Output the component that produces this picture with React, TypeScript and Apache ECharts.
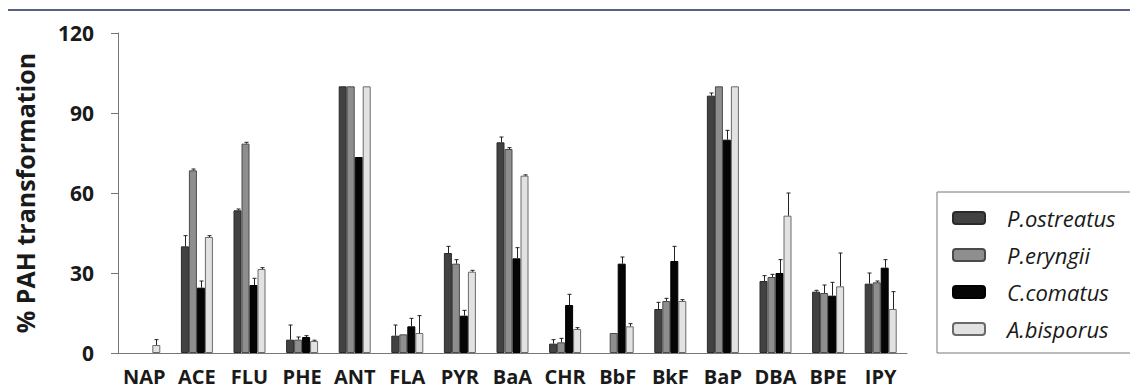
import React, { useEffect, useRef } from "react";
import * as echarts from "echarts";

const categories = ["NAP", "ACE", "FLU", "PHE", "ANT", "FLA", "PYR", "BaA", "CHR", "BbF", "BkF", "BaP", "DBA", "BPE", "IPY"];
const seriesNames = ["P.ostreatus", "P.eryngii", "C.comatus", "A.bisporus"];

const pOstreatus = [0, 40, 53.5, 5, 100, 6.5, 37.5, 79, 3.5, 0, 16.5, 96.5, 27, 23, 26];
const pOstreatusErr = [0, 4, 0.5, 5.5, 0, 4, 2.5, 2, 1.5, 0, 2.5, 1, 2, 0.5, 4];
const pEryngii = [0, 68.5, 78.5, 5, 100, 7, 33.5, 76.5, 4, 7.5, 19.5, 100, 28.5, 22.5, 26.5];
const pEryngiiErr = [0, 0.5, 0.5, 1, 0, 0, 1.5, 0.5, 1.5, 0, 1, 0, 1, 3, 0.5];
const cComatus = [0, 24.5, 25.5, 6, 73.5, 10, 14, 35.5, 18, 33.5, 34.5, 80, 30, 21.5, 32];
const cComatusErr = [0, 2.5, 2.5, 0.5, 0, 3, 2, 4, 4, 2.5, 5.5, 3.5, 5, 5, 3];
const aBisporus = [3, 43.5, 31.5, 4.5, 100, 7.5, 30.5, 66.5, 9, 10, 19.5, 100, 51.5, 25, 16.5];
const aBisporusErr = [2, 0.5, 0.5, 0.3, 0, 6.5, 0.5, 0.3, 0.5, 1, 0.5, 0, 8.5, 12.5, 6.5];

const yTicks = [0, 30, 60, 90, 120];

const values = [pOstreatus, pEryngii, cComatus, aBisporus];
const errors = [pOstreatusErr, pEryngiiErr, cComatusErr, aBisporusErr];
const fills = ["#424242", "#8e8e8e", "#050505", "#e2e2e2"];
const borders = ["#2a2a2a", "#4a4a4a", "#000000", "#6a6a6a"];

const BAR_W = 8;
const FONT = "'Open Sans', 'Noto Sans', sans-serif";

export default function App() {
  const ref = useRef<HTMLDivElement>(null);
  useEffect(() => {
    if (!ref.current) return;
    const chart = echarts.init(ref.current, undefined, { renderer: "svg" });
    const barSeries = seriesNames.map((name, i) => ({
      name,
      type: "bar",
      data: values[i].map((v) => (v === 0 ? "-" : v)),
      barWidth: BAR_W,
      barGap: "0%",
      itemStyle: { color: fills[i], borderColor: borders[i], borderWidth: 1 },
      z: 2,
    }));
    const errSeries = seriesNames.map((name, i) => ({
      name: name + "-err",
      type: "custom",
      z: 3,
      silent: true,
      data: categories.map((_, k) => [k, values[i][k], values[i][k] + errors[i][k]]),
      renderItem: (params: any, api: any) => {
        const k = api.value(0);
        const v = api.value(1);
        const t = api.value(2);
        if (t <= v) return null;
        const base = api.coord([k, v]);
        const top = api.coord([k, t]);
        const x = Math.round(base[0] + (i - 1.5) * BAR_W) + 0.5;
        const style = { stroke: "#222", lineWidth: 1 };
        return {
          type: "group",
          children: [
            { type: "line", shape: { x1: x, y1: base[1], x2: x, y2: top[1] }, style },
            { type: "line", shape: { x1: x - 2, y1: top[1], x2: x + 2, y2: top[1] }, style },
          ],
        };
      },
    }));
    chart.setOption({
      animation: false,
      grid: { left: 118, right: 223, top: 33, bottom: 35 },
      legend: {
        data: seriesNames,
        orient: "vertical",
        left: 937,
        top: 192,
        padding: [15, 20, 13, 15],
        itemGap: 15,
        itemWidth: 32,
        itemHeight: 12,
        borderColor: "#777",
        borderWidth: 1,
        textStyle: {
          fontFamily: FONT,
          fontSize: 22,
          fontStyle: "italic",
          color: "#1a1a1a",
          lineHeight: 22,
          padding: [0, 0, 0, 17],
        },
      },
      xAxis: {
        type: "category",
        data: categories,
        axisLine: { lineStyle: { color: "#777", width: 1 } },
        axisTick: { alignWithLabel: true, interval: 0, length: 5, lineStyle: { color: "#777" } },
        axisLabel: { interval: 0, hideOverlap: false, fontFamily: FONT, fontWeight: "bold", fontSize: 20, color: "#1a1a1a", margin: 13 },
      },
      yAxis: {
        type: "value",
        min: yTicks[0],
        max: yTicks[yTicks.length - 1],
        interval: 30,
        name: "% PAH transformation",
        nameLocation: "middle",
        nameGap: 81,
        nameTextStyle: { fontFamily: FONT, fontWeight: "bold", fontSize: 25, color: "#1a1a1a" },
        axisLine: { show: true, lineStyle: { color: "#777", width: 1 } },
        axisTick: { show: true, length: 7, lineStyle: { color: "#777" } },
        splitLine: { show: false },
        axisLabel: { fontFamily: FONT, fontWeight: "bold", fontSize: 21, color: "#1a1a1a", margin: 24 },
      },
      graphic: [
        { type: "line", shape: { x1: 8, y1: 10, x2: 1130, y2: 10 }, style: { stroke: "#1f2d5c", lineWidth: 1.5 } },
      ],
      series: [...barSeries, ...errSeries],
    });
    return () => chart.dispose();
  }, []);
  return (
    <div
      ref={ref}
      style={{ position: "fixed", left: 0, top: 0, width: 1130, height: 388, background: "#fff" }}
    />
  );
}
